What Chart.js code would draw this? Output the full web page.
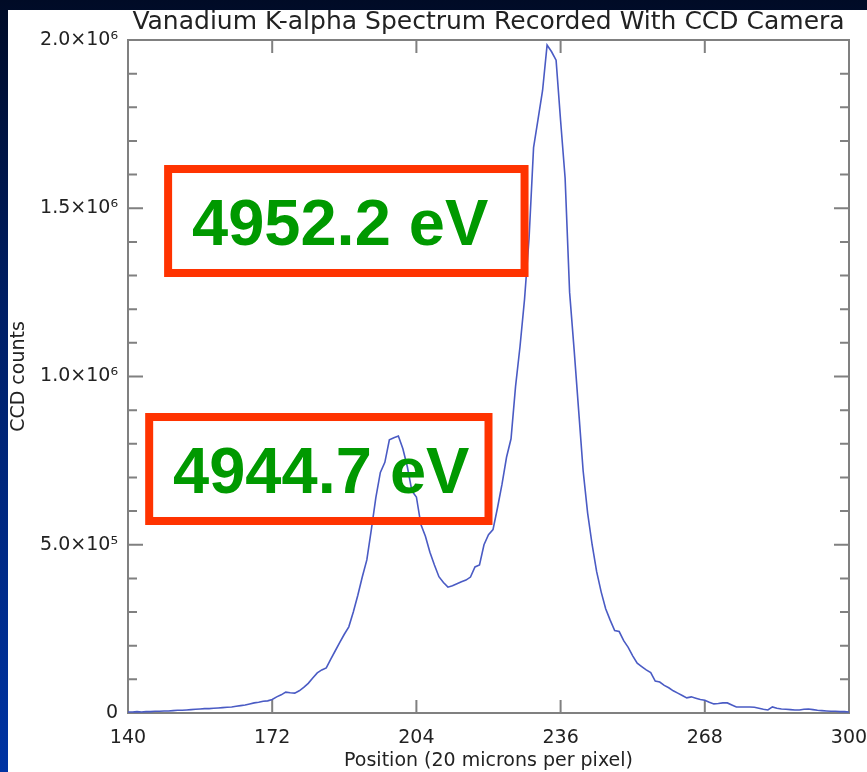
<!DOCTYPE html>
<html>
<head>
<meta charset="UTF-8">
<title>Vanadium K-alpha Spectrum</title>
<script src="https://cdn.jsdelivr.net/npm/chart.js"></script>
<style>
    html, body { margin: 0; padding: 0; }
    body {
        width: 867px;
        height: 772px;
        overflow: hidden;
        background: linear-gradient(#000b26, #001f66 40%, #0034a3);
    }
    #panel {
        position: absolute;
        left: 8px;
        top: 10px;
        width: 859px;
        height: 762px;
        background: #ffffff;
    }
</style>
</head>
<body>
<div id="panel">
    <canvas id="spectrum" width="859" height="762"></canvas>
</div>

<script>
    // pixel position on the CCD and counts
    const positions = [
        140,141,142,143,144,145,146,147,148,149,150,151,152,153,154,155,156,157,158,159,
        160,161,162,163,164,165,166,167,168,169,170,171,172,173,174,175,176,177,178,179,
        180,181,182,183,184,185,186,187,188,189,190,191,192,193,194,195,196,197,198,199,
        200,201,202,203,204,205,206,207,208,209,210,211,212,213,214,215,216,217,218,219,
        220,221,222,223,224,225,226,227,228,229,230,231,232,233,234,235,236,237,238,239,
        240,241,242,243,244,245,246,247,248,249,250,251,252,253,254,255,256,257,258,259,
        260,261,262,263,264,265,266,267,268,269,270,271,272,273,274,275,276,277,278,279,
        280,281,282,283,284,285,286,287,288,289,290,291,292,293,294,295,296,297,298,299,
        300
    ];
    const counts = [
        3000,3000,4000,3000,4000,4000,5000,5000,6000,6000,7000,8000,8000,9000,10000,11000,12000,13000,13000,14000,
        15000,16000,17000,18000,20000,22000,24000,27000,30000,32000,35000,36000,40000,48000,54000,62000,60000,59000,66000,76000,
        88000,104000,119000,128000,134000,160000,185000,210000,234000,256000,300000,350000,405000,455000,545000,640000,715000,745000,812000,818000,
        823000,785000,731000,660000,642000,560000,525000,478000,440000,405000,388000,374000,378000,384000,390000,395000,404000,434000,440000,500000,
        530000,545000,610000,680000,760000,815000,970000,1090000,1230000,1410000,1680000,1765000,1850000,1985000,1965000,1940000,1760000,1590000,1250000,1080000,
        900000,720000,594000,500000,420000,360000,310000,276000,245000,242000,215000,195000,170000,148000,138000,128000,120000,95000,92000,82000,
        75000,66000,59000,52000,45000,48000,44000,40000,38000,32000,27000,28000,30000,30000,24000,18000,18000,18000,18000,17000,
        14000,11000,9000,18000,14000,12000,11000,10000,9000,9000,11000,12000,10000,8000,7000,6000,5000,5000,4000,4000,
        3000
    ];
    const yTickValues = [0, 500000, 1000000, 1500000, 2000000];
    const yTickLabels = ['0', '5.0×10⁵', '1.0×10⁶', '1.5×10⁶', '2.0×10⁶'];
    const peakLabels = ['4952.2 eV', '4944.7 eV'];

    const axisFont = { family: 'DejaVu Sans', size: 19 };

    // inward ticks on all four sides plus the grey frame
    const frameTicks = {
        id: 'frameTicks',
        beforeDatasetsDraw(chart) {
            const { ctx, chartArea: a, scales: { x, y } } = chart;
            ctx.save();
            ctx.strokeStyle = '#808080';
            ctx.lineWidth = 2;
            ctx.beginPath();
            x.ticks.forEach(t => {
                const px = x.getPixelForValue(t.value);
                ctx.moveTo(px, a.bottom); ctx.lineTo(px, a.bottom - 13);
                ctx.moveTo(px, a.top); ctx.lineTo(px, a.top + 13);
            });
            y.ticks.forEach(t => {
                const py = y.getPixelForValue(t.value);
                const len = yTickValues.includes(t.value) ? 15 : 9;
                ctx.moveTo(a.left, py); ctx.lineTo(a.left + len, py);
                ctx.moveTo(a.right, py); ctx.lineTo(a.right - len, py);
            });
            ctx.stroke();
            ctx.strokeRect(a.left, a.top, a.width, a.height);
            ctx.restore();
        }
    };

    // the two red boxes with the line energies
    const peakBoxes = {
        id: 'peakBoxes',
        afterDatasetsDraw(chart) {
            const { ctx, scales: { x, y } } = chart;
            const boxes = [
                { x0: 148.9, x1: 228.0, y0: 1616600, y1: 1307600, tx: 154.2, ty: 1390800 },
                { x0: 144.7, x1: 220.0, y0: 879600, y1: 570600, tx: 150.0, ty: 653800 }
            ];
            ctx.save();
            boxes.forEach((b, i) => {
                const l = x.getPixelForValue(b.x0), r = x.getPixelForValue(b.x1);
                const t = y.getPixelForValue(b.y0), btm = y.getPixelForValue(b.y1);
                ctx.strokeStyle = '#ff3300';
                ctx.lineWidth = 8;
                ctx.strokeRect(l, t, r - l, btm - t);
                ctx.fillStyle = '#009900';
                ctx.font = 'bold 65px "Liberation Sans", Arial, sans-serif';
                ctx.textBaseline = 'alphabetic';
                ctx.fillText(peakLabels[i], x.getPixelForValue(b.tx), y.getPixelForValue(b.ty));
            });
            ctx.restore();
        }
    };

    const ctx = document.getElementById('spectrum').getContext('2d');
    new Chart(ctx, {
        type: 'line',
        data: {
            datasets: [{
                data: positions.map((p, i) => ({ x: p, y: counts[i] })),
                borderColor: '#4a5bc4',
                borderWidth: 1.6,
                pointRadius: 0,
                tension: 0,
                fill: false
            }]
        },
        options: {
            responsive: false,
            animation: false,
            layout: { padding: { right: 18 } },
            plugins: {
                legend: { display: false },
                tooltip: { enabled: false },
                title: {
                    display: true,
                    text: 'Vanadium K-alpha Spectrum Recorded With CCD Camera',
                    fullSize: false,
                    color: '#222222',
                    font: { family: 'DejaVu Sans', size: 25, weight: 'normal', lineHeight: 1 },
                    padding: { top: 0, bottom: 5 }
                }
            },
            scales: {
                x: {
                    type: 'linear',
                    min: 140,
                    max: 300,
                    grid: { display: false, drawTicks: false },
                    border: { display: false },
                    ticks: { stepSize: 32, padding: 14, color: '#222222', font: axisFont, maxRotation: 0 },
                    title: { display: true, text: 'Position (20 microns per pixel)', color: '#222222', font: axisFont, padding: 0 },
                    afterFit(scale) {
                        scale.height = 59;
                        scale.paddingLeft = 0;
                        scale.paddingRight = 0;
                    }
                },
                y: {
                    min: 0,
                    max: 2000000,
                    grid: { display: false, drawTicks: false },
                    border: { display: false },
                    ticks: {
                        stepSize: 100000,
                        autoSkip: false,
                        padding: 10,
                        color: '#222222',
                        font: axisFont,
                        callback: v => {
                            const i = yTickValues.indexOf(v);
                            return i >= 0 ? yTickLabels[i] : '';
                        }
                    },
                    title: { display: true, text: 'CCD counts', color: '#222222', font: axisFont, padding: 0 },
                    afterFit(scale) { scale.width = 120; }
                }
            }
        },
        plugins: [frameTicks, peakBoxes]
    });
</script>
</body>
</html>
